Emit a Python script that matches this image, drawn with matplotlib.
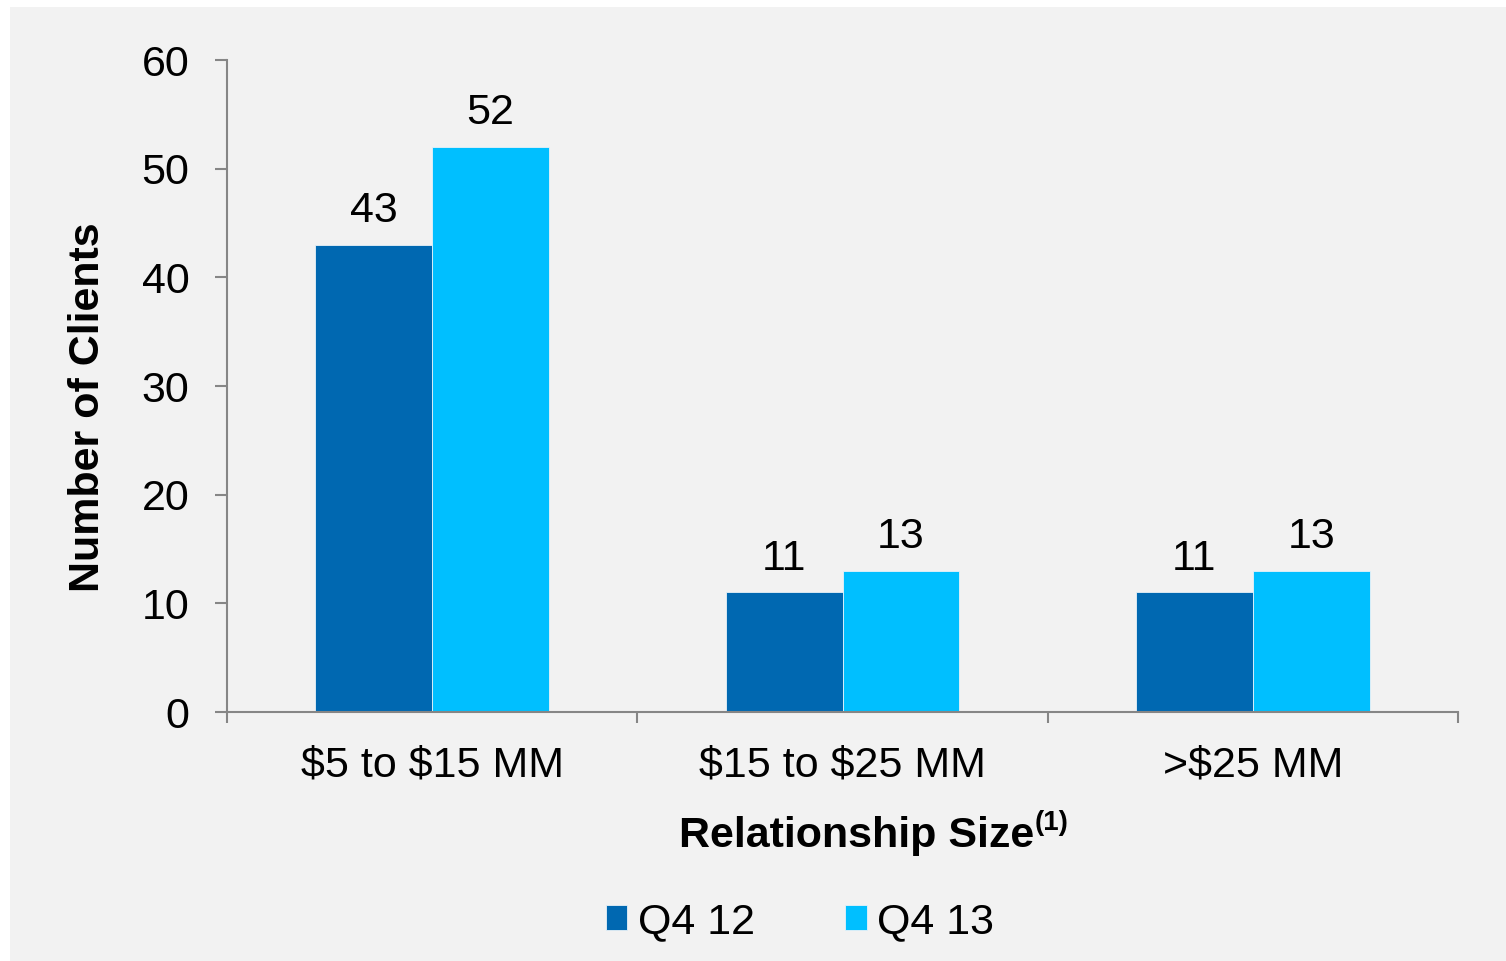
import numpy as np
import matplotlib
matplotlib.use('Agg')
from matplotlib import pyplot as plt
from matplotlib.patches import Rectangle

# data
categories = ['$5 to $15 MM', '$15 to $25 MM', '>$25 MM']
q4_12 = [43, 11, 11]
q4_13 = [52, 13, 13]
series_names = ['Q4 12', 'Q4 13']
y_ticks = [0, 10, 20, 30, 40, 50, 60]

plt.rcParams['font.family'] = ['Liberation Sans', 'DejaVu Sans']
plt.rcParams['text.parse_math'] = False  # dollar signs are literal

W, H = 1506, 961
fig = plt.figure(figsize=(W / 100, H / 100), dpi=100, facecolor='white')

# grey panel behind the chart
fig.patches.append(Rectangle((10 / W, 0), 1 - 10 / W, 1 - 7 / H,
                             transform=fig.transFigure, facecolor='#f2f2f2',
                             edgecolor='none', zorder=-10))

ax = fig.add_axes([227 / W, 1 - 712 / H, (1458 - 227) / W, (712 - 60) / H])
ax.set_facecolor('#f2f2f2')

spine_col = '#868686'
x = np.arange(len(categories))
bw = 0.285
b1 = ax.bar(x - bw / 2, q4_12, bw, color='#0068b1', edgecolor='#e8f2f8', linewidth=0.6, label=series_names[0])
b2 = ax.bar(x + bw / 2, q4_13, bw, color='#00bfff', edgecolor='#e8f2f8', linewidth=0.6, label=series_names[1])
ax.bar_label(b1, fontsize=31, padding=10)
ax.bar_label(b2, fontsize=31, padding=10)

ax.set_xlim(-0.5, len(categories) - 0.5)
ax.set_ylim(0, 60)
ax.set_yticks(y_ticks)
ax.tick_params(axis='y', labelsize=31, length=9, width=1.5, color=spine_col, pad=18)

# x ticks at category boundaries, labels at centres
ax.set_xticks(np.arange(len(categories) + 1) - 0.5)
ax.set_xticklabels([])
ax.set_xticks(x, minor=True)
ax.set_xticklabels(categories, minor=True, fontsize=31)
ax.tick_params(axis='x', which='major', length=8, width=1.5, color=spine_col)
ax.tick_params(axis='x', which='minor', length=0, pad=24)

for s in ['top', 'right']:
    ax.spines[s].set_visible(False)
for s in ['left', 'bottom']:
    ax.spines[s].set_color(spine_col)
    ax.spines[s].set_linewidth(1.5)

ax.set_ylabel('Number of Clients', fontsize=31, fontweight='bold')
ax.yaxis.set_label_coords(-0.097, 0.468)

# x axis title with superscript note
fig.text(1034 / W, 1 - 847 / H, 'Relationship Size', fontsize=31, fontweight='bold',
         ha='right', va='baseline')
fig.text(1035 / W, 1 - 830 / H, '(1)', fontsize=20, fontweight='bold',
         ha='left', va='baseline')

fig.legend(handles=[b1, b2], labels=series_names, loc='center', ncol=2,
           bbox_to_anchor=(800 / W, 1 - 922 / H), frameon=False, fontsize=31,
           handlelength=0.5, handleheight=0.5, handletextpad=0.25,
           columnspacing=2.1)

fig.savefig('out.png', dpi=100, facecolor=fig.get_facecolor())
